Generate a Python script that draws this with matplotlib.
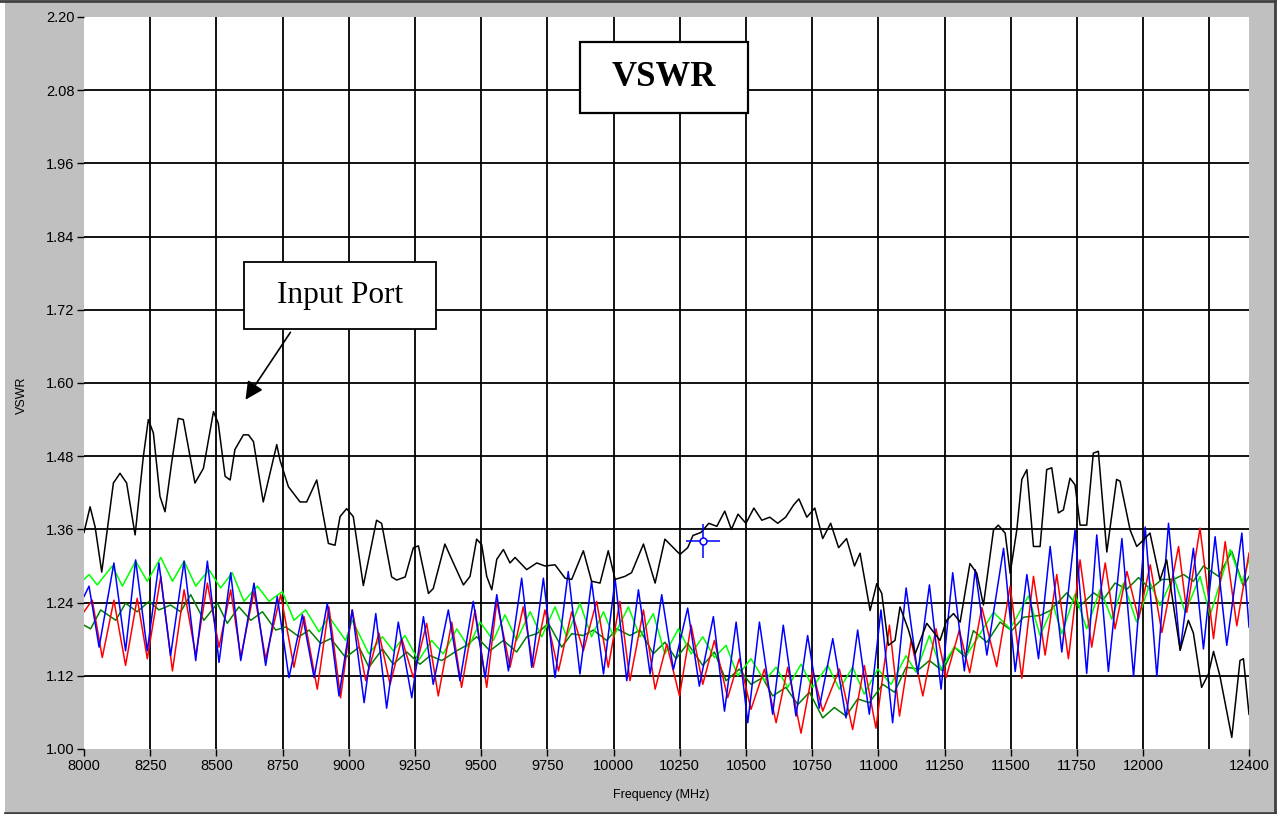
import matplotlib
matplotlib.use("Agg")
import matplotlib.pyplot as plt
from matplotlib.patches import Rectangle
from matplotlib.lines import Line2D

# VSWR sweep, 8000 - 12400 MHz

# Input port (black trace)
inputFreq = [8000, 8023, 8042, 8067, 8086, 8111, 8136, 8161, 8193, 8224, 8243, 8262, 8287, 8306,
             8331, 8356, 8375, 8419, 8451, 8489, 8507, 8533, 8552, 8570, 8602, 8621, 8640, 8677,
             8728, 8740, 8772, 8816, 8841, 8879, 8923, 8948, 8967, 8992, 9017, 9055, 9105, 9124,
             9162, 9181, 9213, 9244, 9263, 9301, 9319, 9363, 9395, 9433, 9458, 9483, 9502, 9521,
             9540, 9559, 9584, 9609, 9628, 9672, 9710, 9741, 9779, 9817, 9842, 9886, 9917, 9949,
             9980, 10006, 10043, 10068, 10113, 10157, 10194, 10251, 10280, 10300, 10330, 10360,
             10390, 10420, 10445, 10470, 10500, 10530, 10560, 10590, 10620, 10650, 10680, 10700,
             10730, 10760, 10790, 10820, 10850, 10880, 10910, 10931, 10969, 10994, 11013, 11038,
             11063, 11082, 11114, 11139, 11183, 11233, 11258, 11284, 11309, 11346, 11372, 11397,
             11435, 11453, 11479, 11498, 11523, 11542, 11561, 11586, 11611, 11636, 11655, 11680,
             11699, 11724, 11743, 11762, 11787, 11812, 11831, 11863, 11900, 11913, 11951, 11976,
             11995, 12026, 12064, 12089, 12140, 12171, 12190, 12221, 12247, 12266, 12290, 12335,
             12366, 12379, 12400]
inputVswr = [1.355, 1.397, 1.364, 1.290, 1.353, 1.436, 1.452, 1.436, 1.351, 1.479, 1.540, 1.518,
             1.414, 1.389, 1.469, 1.542, 1.540, 1.436, 1.460, 1.553, 1.534, 1.447, 1.441, 1.491,
             1.515, 1.515, 1.504, 1.405, 1.499, 1.474, 1.430, 1.405, 1.405, 1.441, 1.337, 1.334,
             1.381, 1.394, 1.381, 1.268, 1.375, 1.370, 1.282, 1.277, 1.282, 1.330, 1.333, 1.255,
             1.263, 1.336, 1.305, 1.269, 1.283, 1.344, 1.335, 1.283, 1.261, 1.311, 1.327, 1.305,
             1.314, 1.294, 1.305, 1.300, 1.302, 1.280, 1.278, 1.325, 1.275, 1.272, 1.325, 1.278,
             1.283, 1.289, 1.336, 1.272, 1.344, 1.319, 1.330, 1.350, 1.355, 1.370, 1.365, 1.390,
             1.360, 1.385, 1.370, 1.395, 1.375, 1.380, 1.370, 1.380, 1.400, 1.410, 1.380, 1.395,
             1.345, 1.370, 1.330, 1.345, 1.300, 1.321, 1.227, 1.271, 1.255, 1.170, 1.178, 1.233,
             1.195, 1.156, 1.206, 1.178, 1.211, 1.222, 1.208, 1.304, 1.288, 1.236, 1.359, 1.367,
             1.354, 1.288, 1.359, 1.442, 1.458, 1.332, 1.332, 1.458, 1.461, 1.387, 1.392, 1.444,
             1.433, 1.367, 1.367, 1.485, 1.488, 1.323, 1.442, 1.439, 1.359, 1.332, 1.340, 1.354,
             1.277, 1.310, 1.162, 1.211, 1.190, 1.101, 1.123, 1.160, 1.120, 1.019, 1.145, 1.148,
             1.057]

# blue trace
blueFreq = [8000, 8019, 8057, 8113, 8157, 8195, 8239, 8283, 8327, 8378, 8422, 8466, 8510, 8554,
            8592, 8642, 8686, 8730, 8774, 8825, 8869, 8919, 8963, 9013, 9058, 9102, 9143, 9187,
            9238, 9282, 9319, 9376, 9420, 9470, 9515, 9559, 9603, 9653, 9691, 9735, 9779, 9829,
            9873, 9917, 9962, 10006, 10050, 10094, 10138, 10182, 10226, 10280, 10324, 10377,
            10419, 10463, 10507, 10551, 10601, 10641, 10689, 10733, 10777, 10828, 10878, 10922,
            10966, 11010, 11054, 11105, 11149, 11193, 11237, 11281, 11325, 11366, 11410, 11473,
            11517, 11561, 11605, 11649, 11693, 11743, 11787, 11825, 11869, 11920, 11964, 12008,
            12052, 12096, 12140, 12190, 12228, 12272, 12316, 12373, 12400]
blueVswr = [1.250, 1.267, 1.167, 1.305, 1.161, 1.310, 1.161, 1.305, 1.153, 1.308, 1.145, 1.308,
            1.142, 1.289, 1.145, 1.272, 1.137, 1.250, 1.117, 1.220, 1.117, 1.239, 1.087, 1.228,
            1.076, 1.222, 1.067, 1.208, 1.084, 1.217, 1.106, 1.228, 1.112, 1.242, 1.117, 1.253,
            1.128, 1.280, 1.134, 1.280, 1.117, 1.291, 1.123, 1.275, 1.123, 1.278, 1.112, 1.261,
            1.123, 1.253, 1.130, 1.231, 1.103, 1.217, 1.062, 1.208, 1.043, 1.208, 1.057, 1.203,
            1.054, 1.186, 1.067, 1.181, 1.051, 1.195, 1.057, 1.228, 1.043, 1.264, 1.123, 1.269,
            1.098, 1.289, 1.128, 1.294, 1.154, 1.329, 1.127, 1.286, 1.148, 1.332, 1.159, 1.359,
            1.124, 1.351, 1.127, 1.345, 1.119, 1.364, 1.119, 1.370, 1.162, 1.329, 1.164, 1.348,
            1.170, 1.354, 1.200]

# red trace
redFreq = [8000, 8031, 8069, 8113, 8157, 8201, 8239, 8290, 8334, 8378, 8422, 8466, 8510, 8554,
           8592, 8642, 8686, 8743, 8793, 8831, 8881, 8925, 8969, 9013, 9064, 9114, 9156, 9200,
           9244, 9294, 9338, 9389, 9426, 9477, 9521, 9559, 9609, 9659, 9697, 9741, 9792, 9842,
           9886, 9936, 9980, 10024, 10062, 10113, 10157, 10201, 10249, 10293, 10337, 10381,
           10431, 10475, 10519, 10570, 10614, 10658, 10708, 10752, 10790, 10853, 10903, 10947,
           10991, 11042, 11080, 11124, 11168, 11218, 11256, 11306, 11345, 11391, 11447, 11498,
           11542, 11586, 11630, 11674, 11718, 11762, 11806, 11857, 11894, 11939, 11983, 12027,
           12071, 12134, 12165, 12215, 12266, 12310, 12354, 12400]
redVswr = [1.225, 1.244, 1.150, 1.244, 1.137, 1.247, 1.148, 1.283, 1.128, 1.261, 1.153, 1.272,
           1.167, 1.261, 1.150, 1.258, 1.148, 1.253, 1.134, 1.217, 1.098, 1.233, 1.084, 1.228,
           1.112, 1.190, 1.106, 1.181, 1.117, 1.206, 1.087, 1.208, 1.101, 1.228, 1.101, 1.242,
           1.134, 1.233, 1.134, 1.228, 1.128, 1.225, 1.161, 1.242, 1.134, 1.242, 1.112, 1.228,
           1.098, 1.172, 1.087, 1.203, 1.106, 1.178, 1.084, 1.148, 1.065, 1.131, 1.043, 1.134,
           1.026, 1.128, 1.062, 1.131, 1.032, 1.137, 1.034, 1.203, 1.054, 1.178, 1.087, 1.197,
           1.117, 1.195, 1.125, 1.232, 1.135, 1.267, 1.116, 1.283, 1.154, 1.286, 1.148, 1.310,
           1.167, 1.305, 1.197, 1.291, 1.213, 1.302, 1.191, 1.332, 1.224, 1.362, 1.181, 1.340,
           1.202, 1.321]

# light green trace
limeFreq = [8000, 8019, 8050, 8107, 8145, 8195, 8239, 8290, 8334, 8378, 8422, 8472, 8516, 8560,
            8604, 8655, 8699, 8749, 8793, 8837, 8888, 8925, 8988, 9013, 9076, 9127, 9168, 9212,
            9263, 9313, 9357, 9408, 9452, 9496, 9546, 9590, 9634, 9685, 9729, 9779, 9823, 9873,
            9917, 9962, 10000, 10056, 10100, 10150, 10194, 10245, 10293, 10337, 10381, 10425,
            10469, 10519, 10570, 10614, 10658, 10708, 10752, 10809, 10853, 10903, 10947, 10998,
            11048, 11105, 11142, 11193, 11237, 11287, 11334, 11435, 11498, 11567, 11611, 11661,
            11693, 11743, 11787, 11838, 11882, 11926, 11976, 12027, 12064, 12115, 12159, 12215,
            12253, 12329, 12373, 12400]
limeVswr = [1.278, 1.286, 1.269, 1.300, 1.267, 1.308, 1.275, 1.314, 1.275, 1.308, 1.267, 1.294,
            1.264, 1.289, 1.242, 1.267, 1.242, 1.258, 1.211, 1.228, 1.192, 1.217, 1.178, 1.211,
            1.156, 1.184, 1.161, 1.186, 1.145, 1.178, 1.156, 1.197, 1.167, 1.208, 1.178, 1.220,
            1.178, 1.225, 1.184, 1.233, 1.184, 1.239, 1.184, 1.225, 1.184, 1.233, 1.184, 1.222,
            1.156, 1.197, 1.156, 1.184, 1.150, 1.170, 1.120, 1.148, 1.112, 1.134, 1.101, 1.139,
            1.101, 1.137, 1.098, 1.134, 1.090, 1.131, 1.106, 1.153, 1.126, 1.186, 1.131, 1.167,
            1.154, 1.224, 1.197, 1.251, 1.186, 1.235, 1.189, 1.254, 1.197, 1.262, 1.213, 1.272,
            1.208, 1.272, 1.235, 1.283, 1.224, 1.283, 1.219, 1.327, 1.272, 1.310]

# dark green trace
greenFreq = [8000, 8025, 8063, 8120, 8157, 8201, 8246, 8283, 8327, 8365, 8403, 8453, 8504, 8541,
             8585, 8630, 8674, 8724, 8762, 8812, 8850, 8894, 8932, 8988, 9039, 9076, 9127, 9168,
             9219, 9269, 9307, 9351, 9408, 9445, 9483, 9533, 9584, 9634, 9672, 9710, 9754, 9804,
             9842, 9886, 9924, 9974, 10012, 10062, 10100, 10150, 10194, 10236, 10280, 10337,
             10381, 10425, 10475, 10519, 10563, 10601, 10651, 10696, 10740, 10790, 10834, 10878,
             10922, 10966, 11017, 11061, 11105, 11155, 11193, 11243, 11287, 11331, 11359, 11410,
             11460, 11504, 11548, 11611, 11649, 11712, 11756, 11813, 11850, 11894, 11939, 11983,
             12027, 12071, 12115, 12153, 12190, 12228, 12285, 12335, 12379, 12400]
greenVswr = [1.203, 1.197, 1.228, 1.211, 1.239, 1.225, 1.242, 1.228, 1.236, 1.225, 1.253, 1.211,
             1.239, 1.206, 1.233, 1.211, 1.225, 1.195, 1.200, 1.184, 1.195, 1.173, 1.181, 1.150,
             1.167, 1.134, 1.164, 1.139, 1.159, 1.139, 1.153, 1.145, 1.161, 1.170, 1.184, 1.161,
             1.178, 1.159, 1.184, 1.189, 1.206, 1.167, 1.189, 1.186, 1.195, 1.178, 1.197, 1.186,
             1.195, 1.156, 1.175, 1.148, 1.173, 1.137, 1.159, 1.112, 1.131, 1.106, 1.117, 1.087,
             1.101, 1.073, 1.093, 1.051, 1.068, 1.054, 1.082, 1.076, 1.106, 1.093, 1.134, 1.131,
             1.145, 1.128, 1.167, 1.150, 1.194, 1.175, 1.208, 1.194, 1.216, 1.219, 1.227, 1.256,
             1.232, 1.256, 1.245, 1.272, 1.262, 1.281, 1.262, 1.278, 1.278, 1.286, 1.275, 1.300,
             1.283, 1.324, 1.267, 1.283]

# cursor position on the input port trace
cursorFreq = 10338
cursorVswr = 1.341

# axis ticks
xTicks = [8000, 8250, 8500, 8750, 9000, 9250, 9500, 9750, 10000, 10250, 10500, 10750, 11000,
          11250, 11500, 11750, 12000, 12400]
xGrid = [8250, 8500, 8750, 9000, 9250, 9500, 9750, 10000, 10250, 10500, 10750, 11000, 11250,
         11500, 11750, 12000, 12250]
yTicks = [1.00, 1.12, 1.24, 1.36, 1.48, 1.60, 1.72, 1.84, 1.96, 2.08, 2.20]

panelGray = '#C0C0C0'

fig = plt.figure(figsize=(12.87, 8.14), dpi=100, facecolor='white')

# the gray panel with its beveled edge
fig.add_artist(Rectangle((5 / 1287, 2 / 814), 1270 / 1287, 810 / 814, transform=fig.transFigure,
                         facecolor=panelGray, edgecolor='none', zorder=-10))
fig.add_artist(Line2D([0, 1275 / 1287], [1 - 1 / 814, 1 - 1 / 814], transform=fig.transFigure,
                      color='#404040', lw=2))
fig.add_artist(Line2D([1275 / 1287, 1275 / 1287], [1 / 814, 1], transform=fig.transFigure,
                      color='#404040', lw=2))
fig.add_artist(Line2D([5 / 1287, 1275 / 1287], [1.5 / 814, 1.5 / 814], transform=fig.transFigure,
                      color='#404040', lw=2))

ax = fig.add_axes([84 / 1287, 1 - 749 / 814, 1165 / 1287, 732 / 814])
ax.set_facecolor('white')
for side in ax.spines.values():
    side.set_visible(False)

# grid drawn by hand so the outer edges stay clean
for gx in xGrid:
    ax.axvline(gx, color='black', lw=1.3, zorder=1)
for gy in yTicks[1:-1]:
    ax.axhline(gy, color='black', lw=1.3, zorder=1)

ax.plot(greenFreq, greenVswr, color='#008000', lw=1.1, zorder=2)
ax.plot(limeFreq, limeVswr, color='#00FF00', lw=1.1, zorder=3)
ax.plot(redFreq, redVswr, color='#FF0000', lw=1.1, zorder=4)
ax.plot(blueFreq, blueVswr, color='#0000FF', lw=1.1, zorder=5)
ax.plot(inputFreq, inputVswr, color='black', lw=1.1, zorder=6)

# cursor marker
ax.plot(cursorFreq, cursorVswr, marker='+', ms=24, mew=1.1, color='#0000FF', zorder=7)
ax.plot(cursorFreq, cursorVswr, marker='o', ms=5, mfc='white', mec='#0000FF', mew=1.1, zorder=8)

ax.set_xlim(8000, 12400)
ax.set_ylim(1.0, 2.2)
ax.set_xticks(xTicks)
ax.set_xticklabels([str(t) for t in xTicks])
ax.set_yticks(yTicks)
ax.set_yticklabels(['%.2f' % t for t in yTicks])
ax.tick_params(direction='out', length=5, width=1, color='black', labelsize=10.5, pad=2)
for lbl in ax.get_xticklabels() + ax.get_yticklabels():
    lbl.set_family('Liberation Sans')

ax.set_xlabel('Frequency (MHz)', fontsize=9, family='Liberation Sans')
ax.set_ylabel('VSWR', fontsize=9, family='Liberation Sans')
ax.xaxis.set_label_coords(0.4953, -0.0628)
ax.yaxis.set_label_coords(-0.0532, 0.4836)
ax.xaxis.label.set_va('center')
ax.yaxis.label.set_va('center')

# title box
ax.add_patch(Rectangle((0.4258, 0.8689), 0.1442, 0.097, transform=ax.transAxes,
                       facecolor='white', edgecolor='black', lw=1.6, zorder=9))
ax.text(0.4258 + 0.0721, 0.8689 + 0.0485, 'VSWR', transform=ax.transAxes, ha='center',
        va='center', fontsize=25, fontweight='bold', family='Liberation Serif', zorder=10)

# "Input Port" callout
ax.add_patch(Rectangle((0.1373, 0.5738), 0.1648, 0.0915, transform=ax.transAxes,
                       facecolor='white', edgecolor='black', lw=1.3, zorder=9))
ax.text(0.1373 + 0.0824, 0.5738 + 0.0457, 'Input Port', transform=ax.transAxes, ha='center',
        va='center', fontsize=22.5, family='Liberation Serif', zorder=10)
ax.annotate('', xy=(0.1373, 0.474), xytext=(0.1785, 0.5724), xycoords='axes fraction',
            textcoords='axes fraction',
            arrowprops=dict(arrowstyle='-|>', color='black', lw=1.2, mutation_scale=27),
            zorder=10)

fig.savefig('out.png', dpi=100, facecolor=fig.get_facecolor())
